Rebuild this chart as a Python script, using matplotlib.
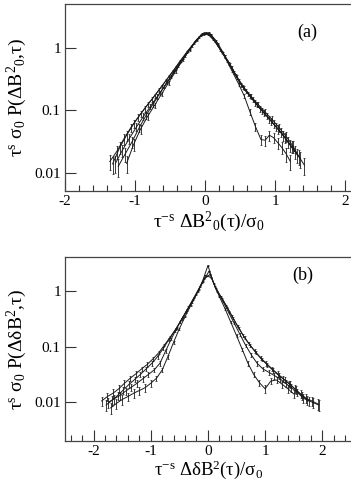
import numpy as np
import matplotlib
matplotlib.use("Agg")
import matplotlib.pyplot as plt
from matplotlib.ticker import MultipleLocator, NullLocator

plt.rcParams['font.family'] = ['Liberation Serif', 'DejaVu Serif']
plt.rcParams['mathtext.fontset'] = 'custom'
plt.rcParams['mathtext.rm'] = 'Liberation Serif'
plt.rcParams['mathtext.it'] = 'Liberation Serif:italic'
plt.rcParams['axes.unicode_minus'] = False

# ---- panel (a): rescaled x, scaled pdf, relative error, one entry per curve
xa = [
  [-1.36, -1.26, -1.16, -1.06, -0.96, -0.86, -0.76, -0.66, -0.56, -0.46, -0.36, -0.26, -0.16, -0.06,
   0.04, 0.14, 0.24, 0.34, 0.44, 0.54, 0.64, 0.74, 0.84, 0.94, 1.04, 1.14, 1.24, 1.34, 1.42],
  [-1.28, -1.18, -1.08, -0.98, -0.88, -0.78, -0.68, -0.58, -0.48, -0.38, -0.28, -0.18, -0.08,
   0.02, 0.12, 0.22, 0.32, 0.42, 0.52, 0.62, 0.72, 0.82, 0.92, 1.02, 1.12, 1.22, 1.32],
  [-1.12, -1.02, -0.92, -0.82, -0.72, -0.62, -0.52, -0.42, -0.32, -0.22, -0.12, -0.02,
   0.08, 0.18, 0.28, 0.38, 0.48, 0.58, 0.68, 0.78, 0.88, 0.98, 1.08, 1.18, 1.28],
  [-1.24, -1.14, -1.04, -0.94, -0.84, -0.74, -0.64, -0.54, -0.44, -0.34, -0.24, -0.14, -0.04,
   0.06, 0.16, 0.26, 0.36, 0.46, 0.56, 0.66, 0.76, 0.86, 0.96, 1.06, 1.16, 1.26, 1.36],
  [-1.32, -1.22, -1.12, -1.02, -0.92, -0.82, -0.72, -0.62, -0.52, -0.42, -0.32, -0.22, -0.12, -0.02,
   0.08, 0.18, 0.28, 0.38, 0.48, 0.56, 0.64, 0.72, 0.80, 0.86, 0.92, 0.98, 1.04, 1.10, 1.16, 1.22],
]
ya = [
  [0.0151, 0.0219, 0.0347, 0.0525, 0.0759, 0.107, 0.148, 0.209, 0.295, 0.417, 0.603, 0.851, 1.17, 1.58,
   1.66, 1.26, 0.851, 0.562, 0.355, 0.234, 0.170, 0.123, 0.0912, 0.0676, 0.0501, 0.0363, 0.0263, 0.0182, 0.0132],
  [0.0141, 0.0229, 0.0355, 0.0537, 0.0794, 0.115, 0.166, 0.240, 0.347, 0.513, 0.741, 1.07, 1.48,
   1.74, 1.38, 0.933, 0.617, 0.398, 0.251, 0.182, 0.132, 0.0977, 0.0724, 0.0537, 0.0398, 0.0275, 0.0191],
  [0.0141, 0.0282, 0.0501, 0.0794, 0.120, 0.182, 0.275, 0.417, 0.631, 0.933, 1.35, 1.70,
   1.58, 1.10, 0.724, 0.479, 0.295, 0.204, 0.148, 0.107, 0.0813, 0.0603, 0.0447, 0.0316, 0.0219],
  [0.0126, 0.0200, 0.0316, 0.0525, 0.0832, 0.126, 0.191, 0.282, 0.417, 0.617, 0.891, 1.26, 1.66,
   1.74, 1.29, 0.832, 0.537, 0.339, 0.229, 0.166, 0.123, 0.0933, 0.0708, 0.0525, 0.0380, 0.0263, 0.0166],
  [0.0138, 0.0251, 0.0398, 0.0603, 0.0871, 0.123, 0.170, 0.240, 0.339, 0.479, 0.676, 0.955, 1.32, 1.66,
   1.62, 1.15, 0.724, 0.437, 0.263, 0.170, 0.0955, 0.0550, 0.0339, 0.0331, 0.0398, 0.0363, 0.0302, 0.0251, 0.0200, 0.0151],
]
ea = [
  [0.28, 0.24, 0.19, 0.15, 0.13, 0.11, 0.09, 0.08, 0.06, 0.05, 0.05, 0.04, 0.03, 0.03,
   0.03, 0.03, 0.04, 0.05, 0.06, 0.07, 0.08, 0.10, 0.12, 0.13, 0.16, 0.18, 0.22, 0.26, 0.30],
  [0.29, 0.23, 0.19, 0.15, 0.12, 0.10, 0.09, 0.07, 0.06, 0.05, 0.04, 0.03, 0.03,
   0.03, 0.03, 0.04, 0.04, 0.06, 0.07, 0.08, 0.10, 0.11, 0.13, 0.15, 0.18, 0.21, 0.25],
  [0.29, 0.21, 0.16, 0.12, 0.10, 0.08, 0.07, 0.05, 0.04, 0.04, 0.03, 0.03,
   0.03, 0.03, 0.04, 0.05, 0.06, 0.08, 0.09, 0.11, 0.12, 0.14, 0.17, 0.20, 0.24],
  [0.31, 0.25, 0.20, 0.15, 0.12, 0.10, 0.08, 0.07, 0.05, 0.04, 0.04, 0.03, 0.03,
   0.03, 0.03, 0.04, 0.05, 0.06, 0.07, 0.09, 0.10, 0.11, 0.13, 0.15, 0.18, 0.22, 0.27],
  [0.30, 0.22, 0.18, 0.14, 0.12, 0.10, 0.08, 0.07, 0.06, 0.05, 0.04, 0.04, 0.03, 0.03,
   0.03, 0.03, 0.04, 0.05, 0.06, 0.08, 0.11, 0.14, 0.19, 0.19, 0.18, 0.18, 0.20, 0.22, 0.25, 0.28],
]

# ---- panel (b)
xb = [
  [-1.86, -1.76, -1.66, -1.56, -1.46, -1.36, -1.26, -1.16, -1.06, -0.96, -0.86, -0.76, -0.66, -0.56,
   -0.46, -0.36, -0.26, -0.16, -0.06, 0.04, 0.14, 0.24, 0.34, 0.44, 0.54, 0.64, 0.74, 0.84, 0.94,
   1.04, 1.14, 1.24, 1.34, 1.44, 1.54, 1.64, 1.74, 1.84, 1.94],
  [-1.78, -1.68, -1.58, -1.48, -1.38, -1.28, -1.18, -1.08, -0.98, -0.88, -0.78, -0.68, -0.58, -0.48,
   -0.38, -0.28, -0.18, -0.08, 0.02, 0.12, 0.22, 0.32, 0.42, 0.52, 0.62, 0.72, 0.82, 0.92,
   1.02, 1.12, 1.22, 1.32, 1.42, 1.52, 1.62, 1.72, 1.82, 1.92],
  [-1.70, -1.60, -1.50, -1.40, -1.30, -1.20, -1.10, -1.00, -0.90, -0.80, -0.70, -0.60, -0.50,
   -0.40, -0.30, -0.20, -0.10, 0.00, 0.10, 0.20, 0.30, 0.40, 0.50, 0.60, 0.70, 0.80, 0.90,
   1.00, 1.10, 1.20, 1.30, 1.40, 1.50],
  [-1.74, -1.64, -1.54, -1.44, -1.34, -1.24, -1.14, -1.04, -0.94, -0.84, -0.74, -0.64, -0.54,
   -0.44, -0.34, -0.24, -0.14, -0.04, 0.06, 0.16, 0.26, 0.36, 0.46, 0.56, 0.66, 0.76, 0.86,
   0.96, 1.06, 1.16, 1.26, 1.36, 1.46, 1.56, 1.66, 1.76],
]
yb = [
  [0.0105, 0.0126, 0.0145, 0.0174, 0.0219, 0.0269, 0.0324, 0.0398, 0.0479, 0.0603, 0.0776, 0.107, 0.148, 0.209,
   0.309, 0.457, 0.692, 1.05, 1.66, 2.00, 1.10, 0.741, 0.501, 0.324, 0.214, 0.145, 0.105, 0.0776, 0.0589,
   0.0468, 0.0372, 0.0302, 0.0251, 0.0209, 0.0166, 0.0132, 0.0110, 0.0098, 0.0089],
  [0.0089, 0.0107, 0.0132, 0.0166, 0.0209, 0.0257, 0.0316, 0.0398, 0.0501, 0.0661, 0.0933, 0.135, 0.191, 0.282,
   0.417, 0.631, 0.977, 1.51, 2.29, 1.23, 0.813, 0.550, 0.355, 0.234, 0.158, 0.112, 0.0832, 0.0631,
   0.0501, 0.0398, 0.0324, 0.0263, 0.0214, 0.0174, 0.0141, 0.0117, 0.0105, 0.0093],
  [0.0079, 0.0095, 0.0112, 0.0126, 0.0145, 0.0162, 0.0182, 0.0219, 0.0269, 0.0380, 0.0661, 0.120, 0.209,
   0.347, 0.550, 0.871, 1.45, 2.88, 1.38, 0.794, 0.479, 0.275, 0.158, 0.0891, 0.0501, 0.0316, 0.0224,
   0.0174, 0.0240, 0.0251, 0.0209, 0.0174, 0.0141],
  [0.0100, 0.0115, 0.0132, 0.0158, 0.0186, 0.0219, 0.0263, 0.0316, 0.0380, 0.0501, 0.0832, 0.138, 0.219,
   0.339, 0.513, 0.776, 1.20, 1.91, 1.74, 1.00, 0.661, 0.417, 0.263, 0.166, 0.105, 0.0708, 0.0501,
   0.0398, 0.0347, 0.0302, 0.0263, 0.0219, 0.0182, 0.0151, 0.0120, 0.0105],
]
eb = [
  [0.20, 0.18, 0.17, 0.15, 0.14, 0.12, 0.11, 0.10, 0.09, 0.08, 0.07, 0.06, 0.05, 0.04,
   0.04, 0.03, 0.02, 0.02, 0.02, 0.01, 0.02, 0.02, 0.03, 0.04, 0.04, 0.05, 0.06, 0.07, 0.08,
   0.09, 0.10, 0.12, 0.13, 0.14, 0.16, 0.17, 0.19, 0.20, 0.21],
  [0.21, 0.19, 0.17, 0.15, 0.14, 0.12, 0.11, 0.10, 0.09, 0.08, 0.07, 0.05, 0.05, 0.04,
   0.03, 0.03, 0.02, 0.02, 0.01, 0.02, 0.02, 0.03, 0.03, 0.04, 0.05, 0.06, 0.07, 0.08,
   0.09, 0.10, 0.11, 0.12, 0.14, 0.15, 0.17, 0.18, 0.20, 0.21],
  [0.22, 0.21, 0.19, 0.18, 0.17, 0.16, 0.15, 0.14, 0.12, 0.10, 0.08, 0.06, 0.04,
   0.03, 0.03, 0.02, 0.02, 0.01, 0.02, 0.02, 0.03, 0.04, 0.05, 0.07, 0.09, 0.11, 0.13,
   0.15, 0.13, 0.13, 0.14, 0.15, 0.17],
  [0.20, 0.19, 0.17, 0.16, 0.15, 0.14, 0.12, 0.11, 0.10, 0.09, 0.07, 0.05, 0.04,
   0.03, 0.03, 0.02, 0.02, 0.01, 0.02, 0.02, 0.02, 0.03, 0.04, 0.05, 0.06, 0.08, 0.09,
   0.10, 0.11, 0.12, 0.12, 0.14, 0.15, 0.16, 0.18, 0.20],
]

ytick_vals = [0.01, 0.1, 1]
ytick_labels = ['0.01', '0.1', '1']

W, H = 351, 484
fig = plt.figure(figsize=(W / 100, H / 100), dpi=100)
ax1 = fig.add_axes([65 / W, 1 - 191 / H, 287 / W, 187 / H])
ax2 = fig.add_axes([65 / W, 1 - 441 / H, 287 / W, 184 / H])


def draw_panel(ax, xs, ys, es, xlim, ylim):
  for x, y, e in zip(xs, ys, es):
    x = np.array(x)
    y = np.array(y)
    err = y * np.array(e)
    ax.errorbar(x, y, yerr=err, color='#1a1a1a', lw=0.7, elinewidth=0.6,
                capsize=1.0, capthick=0.5)
  ax.set_yscale('log')
  ax.set_xlim(*xlim)
  ax.set_ylim(*ylim)
  ax.xaxis.set_major_locator(MultipleLocator(1))
  ax.xaxis.set_minor_locator(MultipleLocator(0.2))
  ax.set_yticks(ytick_vals, labels=ytick_labels)
  ax.yaxis.set_minor_locator(NullLocator())
  ax.tick_params(which='both', direction='in', top=False, right=False,
                 labelsize=11, color='#333333')
  ax.tick_params(axis='y', pad=3)
  ax.tick_params(axis='x', pad=3)
  ax.tick_params(which='major', length=8, width=0.8)
  ax.tick_params(which='minor', length=4, width=0.8)
  for s in ax.spines.values():
    s.set_linewidth(0.9)
    s.set_color('#444444')


draw_panel(ax1, xa, ya, ea, (-2.0, 2.1), (0.0051, 5.0))
draw_panel(ax2, xb, yb, eb, (-2.5, 2.52), (0.002, 4.1))

ax1.set_xlabel(r'$\mathrm{\tau^{-s}\ \Delta B^{2}{}_{0}(\tau)/\sigma_0}$', fontsize=14, labelpad=1)
ax1.set_ylabel(r'$\mathrm{\tau^{s}\ \sigma_0\ P(\Delta B^{2}{}_{0}{,}\tau)}$', fontsize=14, labelpad=4)
ax2.set_xlabel(r'$\mathrm{\tau^{-s}\ \Delta\delta B^{2}(\tau)/\sigma_0}$', fontsize=13.5, labelpad=0)
ax2.set_ylabel(r'$\mathrm{\tau^{s}\ \sigma_0\ P(\Delta\delta B^{2}{,}\tau)}$', fontsize=14, labelpad=4)

ax1.text(0.843, 0.85, '(a)', transform=ax1.transAxes, fontsize=13, ha='center', va='center')
ax2.text(0.83, 0.90, '(b)', transform=ax2.transAxes, fontsize=13, ha='center', va='center')

fig.savefig('out.png', dpi=100)
